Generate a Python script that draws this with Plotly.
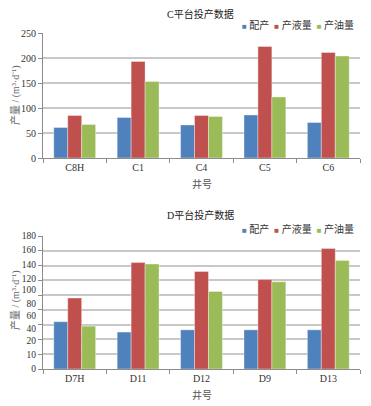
import plotly.graph_objects as go

# ---- data ----
series_names = ["配产", "产液量", "产油量"]
colors = ["#4F81BD", "#C0504D", "#9BBB59"]

c_wells = ["C8H", "C1", "C4", "C5", "C6"]
c_peichan = [61, 81, 66, 86, 71]
c_yeliang = [85, 193, 85, 223, 211]
c_youliang = [67, 153, 83, 122, 204]

d_wells = ["D7H", "D11", "D12", "D9", "D13"]
d_peichan = [64, 50, 53, 53, 53]
d_yeliang = [96, 144, 132, 121, 163]
d_youliang = [58, 142, 105, 118, 147]

# tick labels on the D panel as printed (positions in axis units)
d_tick_pos = [0, 20, 38, 55, 72, 89, 107, 122, 141, 161, 180]
d_tick_text = ["0", "10", "20", "40", "60", "80", "100", "120", "140", "160", "180"]

FONT = "Liberation Serif, Times New Roman, Noto Sans CJK SC, serif"
GRID = "#C8C8C8"
AXIS = "#8C8C8C"
TXT = "#333333"

# page body has an 8px default margin -> figure is 8px smaller and offset
W, H, OFF = 363, 398, 8


def px(xr):
    return (xr - OFF) / W


def py(yr):
    return 1 - (yr - OFF) / H


fig = go.Figure()
for name, col, vals in zip(series_names, colors, [c_peichan, c_yeliang, c_youliang]):
    fig.add_trace(go.Bar(x=c_wells, y=vals, name=name,
                         marker=dict(color=col, line=dict(width=0.6, color="rgba(255,255,255,0.6)")),
                         xaxis="x", yaxis="y", showlegend=False))
for name, col, vals in zip(series_names, colors, [d_peichan, d_yeliang, d_youliang]):
    fig.add_trace(go.Bar(x=d_wells, y=vals, name=name,
                         marker=dict(color=col, line=dict(width=0.6, color="rgba(255,255,255,0.6)")),
                         xaxis="x2", yaxis="y3", showlegend=False))
# empty trace so the label axis of the D panel is drawn
fig.add_trace(go.Scatter(x=[], y=[], xaxis="x2", yaxis="y4", showlegend=False, hoverinfo="skip"))

x_dom = [px(43), px(360)]
c_dom = [py(158), py(33)]
d_dom = [py(369), py(236)]

xcommon = dict(domain=x_dom, showline=True, linecolor=AXIS, linewidth=1, ticks="outside",
               tickson="boundaries", ticklen=4, tickcolor=AXIS, showgrid=False, automargin=False,
               tickfont=dict(size=10, color=TXT, family=FONT))
ycommon = dict(showline=True, linecolor=AXIS, linewidth=1, ticks="outside", ticklen=4, automargin=False,
               tickcolor=AXIS, showgrid=True, gridcolor=GRID, gridwidth=1.5, zeroline=False)


def legend_text():
    parts = []
    for name, col in zip(series_names, colors):
        parts.append(f"<span style='color:{col};font-size:8px'>■</span> {name}")
    return "  ".join(parts)


def ann(text, x, y, size=10, color=TXT, xanchor="center", **kw):
    return dict(text=text, x=x, y=y, xref="paper", yref="paper", showarrow=False,
                xanchor=xanchor, yanchor="middle",
                font=dict(size=size, color=color, family=FONT), **kw)


ytitle_txt = "产量 / (m³·d⁻¹)"

fig.update_layout(
    width=W, height=H,
    margin=dict(l=0, r=0, t=0, b=0),
    paper_bgcolor="white", plot_bgcolor="white",
    font=dict(family=FONT, size=10, color=TXT),
    barmode="group", bargap=0.34, bargroupgap=0,
    showlegend=False,
    xaxis=dict(anchor="y", **xcommon),
    xaxis2=dict(anchor="y3", **xcommon),
    yaxis=dict(domain=c_dom, anchor="x", range=[0, 250], dtick=50,
               tickfont=dict(size=10, color=TXT, family=FONT), **ycommon),
    yaxis3=dict(domain=d_dom, anchor="x2", range=[0, 180], dtick=20, showticklabels=False, **ycommon),
    yaxis4=dict(domain=d_dom, anchor="x2", overlaying="y3", side="left", range=[0, 180],
                tickmode="array", tickvals=d_tick_pos, ticktext=d_tick_text, showgrid=False,
                showline=False, ticks="outside", ticklen=4, tickcolor="rgba(0,0,0,0)", zeroline=False,
                automargin=False, tickfont=dict(size=9.5, color=TXT, family=FONT)),
    annotations=[
        ann("C平台投产数据", px(200), py(14), color="#222222"),
        ann("D平台投产数据", px(200), py(215), color="#222222"),
        ann(legend_text(), px(356), py(25), xanchor="right"),
        ann(legend_text(), px(356), py(229), xanchor="right"),
        ann("井号", px(202), py(184), color="#555555"),
        ann("井号", px(202), py(395), color="#555555"),
        ann(ytitle_txt, px(15), py(95), color="#666666", textangle=-90),
        ann(ytitle_txt, px(15), py(300), color="#666666", textangle=-90),
    ],
)

fig.write_html("out.html")
